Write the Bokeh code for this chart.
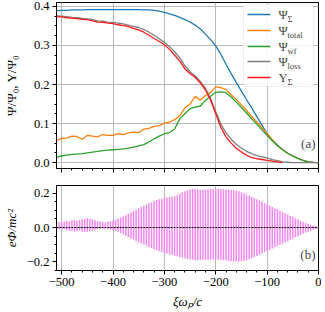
from bokeh.plotting import figure
from bokeh.layouts import gridplot
from bokeh.models import (Range1d, Span, Label, BoxAnnotation, CustomJSTickFormatter,
                          SingleIntervalTicker)
from bokeh.embed import file_html
from bokeh.resources import INLINE

# ---------------- data ----------------
xi = list(range(-510, 1, 10))          # sample positions, xi*omega_p/c

psi_sigma = [0.389, 0.390, 0.390, 0.391, 0.391, 0.391, 0.392, 0.392, 0.392, 0.392,
             0.392, 0.392, 0.392, 0.392, 0.392, 0.392, 0.392, 0.391, 0.391, 0.390,
             0.388, 0.385, 0.381, 0.377, 0.372, 0.366, 0.360, 0.352, 0.342, 0.329,
             0.315, 0.299, 0.277, 0.252, 0.228, 0.205, 0.183, 0.161, 0.140, 0.118,
             0.096, 0.074, 0.058, 0.045, 0.033, 0.024, 0.017, 0.011, 0.006, 0.002,
             0.0005, 0.0]

psi_total = [0.057, 0.062, 0.063, 0.068, 0.067, 0.060, 0.070, 0.068, 0.066, 0.072,
             0.070, 0.070, 0.074, 0.072, 0.076, 0.078, 0.077, 0.086, 0.088, 0.093,
             0.095, 0.101, 0.104, 0.110, 0.120, 0.140, 0.150, 0.170, 0.160, 0.172,
             0.180, 0.194, 0.192, 0.187, 0.174, 0.162, 0.148, 0.134, 0.118, 0.104,
             0.089, 0.074, 0.059, 0.044, 0.033, 0.024, 0.017, 0.011, 0.006, 0.002,
             0.0005, 0.0]

psi_wf = [0.014, 0.017, 0.019, 0.021, 0.022, 0.023, 0.025, 0.027, 0.029, 0.031,
          0.032, 0.033, 0.034, 0.035, 0.037, 0.040, 0.043, 0.046, 0.053, 0.061,
          0.068, 0.074, 0.077, 0.086, 0.112, 0.125, 0.138, 0.142, 0.145, 0.160,
          0.170, 0.180, 0.181, 0.179, 0.168, 0.155, 0.141, 0.127, 0.112, 0.098,
          0.084, 0.070, 0.056, 0.044, 0.033, 0.024, 0.017, 0.011, 0.006, 0.002,
          0.0005, 0.0]

psi_loss = [0.376, 0.375, 0.374, 0.372, 0.371, 0.369, 0.368, 0.366, 0.363, 0.362,
            0.360, 0.359, 0.357, 0.355, 0.352, 0.349, 0.346, 0.341, 0.334, 0.326,
            0.317, 0.308, 0.297, 0.284, 0.268, 0.248, 0.233, 0.222, 0.208, 0.190,
            0.165, 0.130, 0.098, 0.076, 0.060, 0.047, 0.037, 0.029, 0.023, 0.018,
            0.015, 0.012, 0.008, 0.005, 0.002, 0.001, 0.0, 0.0, 0.0, 0.0,
            0.0, 0.0]

ups_sigma = [0.374, 0.373, 0.371, 0.370, 0.369, 0.367, 0.366, 0.363, 0.360, 0.359,
             0.357, 0.356, 0.353, 0.351, 0.348, 0.344, 0.340, 0.334, 0.326, 0.318,
             0.310, 0.302, 0.290, 0.275, 0.260, 0.240, 0.228, 0.218, 0.204, 0.186,
             0.160, 0.125, 0.090, 0.066, 0.050, 0.037, 0.027, 0.019, 0.013, 0.010,
             0.008, 0.006, 0.004, 0.002, 0.0]
ups_xi = xi[:len(ups_sigma)]

# electrostatic potential: local maxima / minima of the oscillation
phi_xi = list(range(-510, 1, 5))
phi_top = [0.030, 0.033, 0.030, 0.035, 0.038, 0.035, 0.042, 0.046, 0.040, 0.044,
           0.048, 0.050, 0.054, 0.052, 0.048, 0.042, 0.038, 0.036, 0.034, 0.030,
           0.034, 0.038, 0.040, 0.045, 0.052, 0.058, 0.064, 0.072, 0.080, 0.088,
           0.096, 0.104, 0.112, 0.120, 0.127, 0.134, 0.141, 0.148, 0.154, 0.160,
           0.165, 0.168, 0.172, 0.175, 0.178, 0.180, 0.183, 0.188, 0.195, 0.205,
           0.212, 0.218, 0.222, 0.226, 0.224, 0.222, 0.220, 0.221, 0.222, 0.223,
           0.224, 0.225, 0.226, 0.225, 0.224, 0.223, 0.222, 0.221, 0.220, 0.218,
           0.215, 0.211, 0.206, 0.200, 0.194, 0.187, 0.180, 0.172, 0.165, 0.157,
           0.150, 0.142, 0.135, 0.128, 0.120, 0.113, 0.106, 0.098, 0.091, 0.083,
           0.076, 0.068, 0.061, 0.054, 0.047, 0.040, 0.033, 0.027, 0.021, 0.016,
           0.012, 0.008, 0.005]
phi_bot = [-0.008, -0.010, -0.012, -0.010, -0.015, -0.018, -0.020, -0.025, -0.022, -0.018,
           -0.024, -0.026, -0.025, -0.022, -0.018, -0.012, -0.010, -0.008, -0.006, -0.008,
           -0.010, -0.012, -0.014, -0.018, -0.024, -0.032, -0.040, -0.048, -0.056, -0.064,
           -0.071, -0.078, -0.085, -0.092, -0.099, -0.106, -0.113, -0.120, -0.126, -0.132,
           -0.137, -0.142, -0.147, -0.152, -0.156, -0.160, -0.164, -0.168, -0.172, -0.176,
           -0.180, -0.183, -0.186, -0.188, -0.190, -0.190, -0.189, -0.188, -0.188, -0.187,
           -0.187, -0.186, -0.186, -0.187, -0.188, -0.190, -0.192, -0.194, -0.196, -0.197,
           -0.198, -0.198, -0.196, -0.193, -0.190, -0.184, -0.178, -0.172, -0.166, -0.158,
           -0.151, -0.144, -0.137, -0.130, -0.122, -0.115, -0.108, -0.100, -0.093, -0.086,
           -0.079, -0.071, -0.064, -0.057, -0.050, -0.043, -0.036, -0.030, -0.024, -0.018,
           -0.012, -0.008, -0.005]

legend_labels = [("\u03a8", "\u03a3"), ("\u03a8", "total"), ("\u03a8", "wf"),
                 ("\u03a8", "loss"), ("\u03a5", "\u03a3")]
colors = ["#1f77b4", "#ff7f0e", "#2ca02c", "#7f7f7f", "#ff1a1a"]

# ---------------- styling helpers ----------------
FONT = "Liberation Serif"
FW, FH1, FH2 = 262, 166, 85
X0, X1 = -510, 0
Y0a, Y1a = -0.015, 0.41
Y0b, Y1b = -0.25, 0.245

xfmt = CustomJSTickFormatter(code="return tick.toFixed(0).replace('-', '\u2212');")
yfmt = CustomJSTickFormatter(code="return tick.toFixed(1).replace('-', '\u2212');")
nofmt = CustomJSTickFormatter(code="return '';")


def style(p):
    p.outline_line_color = "black"
    p.outline_line_width = 1
    p.background_fill_color = "white"
    p.border_fill_color = "white"
    for ax in p.axis:
        ax.axis_line_color = "black"
        ax.major_tick_line_color = "black"
        ax.minor_tick_line_color = "black"
        ax.major_tick_in = 0
        ax.major_tick_out = 4
        ax.minor_tick_in = 0
        ax.minor_tick_out = 2
        ax.major_label_text_font = FONT
        ax.major_label_text_font_size = "12.5px"
        ax.major_label_text_color = "black"
        ax.axis_label_text_font = FONT
        ax.axis_label_text_font_size = "13px"
        ax.axis_label_text_font_style = "normal"
        ax.axis_label_text_color = "black"
        ax.major_label_standoff = 3


# ---------------- top panel ----------------
p1 = figure(frame_width=FW, frame_height=FH1, x_range=Range1d(X0, X1),
            y_range=Range1d(Y0a, Y1a), output_backend="svg", toolbar_location=None,
            min_border_left=55, min_border_right=3, min_border_top=2, min_border_bottom=5)
style(p1)
p1.xaxis.ticker = SingleIntervalTicker(interval=100, num_minor_ticks=5)
p1.yaxis.ticker = SingleIntervalTicker(interval=0.1, num_minor_ticks=4)
p1.xaxis.formatter = nofmt
p1.xaxis.major_label_standoff = 0
p1.yaxis.formatter = yfmt
p1.yaxis.axis_label = "\u03a8/\u03a8\u2080, \u03a5/\u03a8\u2080"
p1.yaxis.axis_label_standoff = 12
p1.grid.grid_line_color = "#b8b8b8"
p1.grid.grid_line_width = 1

series = [(xi, psi_sigma), (xi, psi_total), (xi, psi_wf), (xi, psi_loss), (ups_xi, ups_sigma)]
for (xs, ys), c in zip(series, colors):
    p1.line(xs, ys, line_color=c, line_width=1.3)


def sx(px):
    return X0 + px * (X1 - X0) / FW


def sy1(py):
    return Y1a - py * (Y1a - Y0a) / FH1


def sy2(py):
    return Y1b - py * (Y1b - Y0b) / FH2


legend_box = BoxAnnotation(left=sx(FW - 75), right=sx(FW - 5), top=sy1(2), bottom=sy1(84),
                           fill_color="white", fill_alpha=0.85, line_color="#c8c8c8",
                           line_width=1, border_radius=3)
p1.add_layout(legend_box)
rows = [12, 28, 44, 59, 75]
for (main, sub), c, r in zip(legend_labels, colors, rows):
    p1.segment(x0=[sx(FW - 71)], y0=[sy1(r)], x1=[sx(FW - 48)], y1=[sy1(r)],
               line_color=c, line_width=1.5, level="overlay")
    p1.add_layout(Label(x=sx(FW - 40), y=sy1(r), text=main, text_font=FONT,
                        text_font_size="12.5px", text_baseline="middle", level="overlay"))
    p1.add_layout(Label(x=sx(FW - 31), y=sy1(r + 4), text=sub, text_font=FONT,
                        text_font_size="8.5px", text_baseline="middle", level="overlay"))

p1.add_layout(Label(x=sx(FW - 3), y=sy1(FH1 - 25), text="(a)", text_font=FONT,
                    text_font_size="13px", text_align="right", text_baseline="middle"))

# ---------------- bottom panel ----------------
p2 = figure(frame_width=FW, frame_height=FH2, x_range=Range1d(X0, X1),
            y_range=Range1d(Y0b, Y1b), output_backend="svg", toolbar_location=None,
            min_border_left=55, min_border_right=3, min_border_top=12, min_border_bottom=4)
style(p2)
p2.xaxis.ticker = SingleIntervalTicker(interval=100, num_minor_ticks=5)
p2.yaxis.ticker = SingleIntervalTicker(interval=0.2, num_minor_ticks=4)
p2.xaxis.formatter = xfmt
p2.yaxis.formatter = yfmt
p2.yaxis.axis_label = "e\u03a6/mc\u00b2"
p2.yaxis.axis_label_text_font_style = "italic"
p2.xaxis.axis_label = "\u03be\u03c9\u209a/c"
p2.xaxis.axis_label_text_font_style = "italic"
p2.xaxis.axis_label_standoff = 5
p2.ygrid.grid_line_color = None
p2.xgrid.grid_line_color = "#b8b8b8"
p2.xgrid.grid_line_width = 1

p2.segment(x0=phi_xi, y0=phi_bot, x1=phi_xi, y1=phi_top, line_color="#ee82ee",
           line_width=1.5, line_alpha=0.95)
p2.add_layout(Span(location=0, dimension="width", line_color="black", line_width=1,
                   line_dash="2 1"))
p2.add_layout(Label(x=sx(FW - 3), y=sy2(FH2 - 16), text="(b)", text_font=FONT,
                    text_font_size="13px", text_align="right", text_baseline="middle"))

grid = gridplot([[p1], [p2]], toolbar_location=None)
open("out.html", "w").write(file_html(grid, INLINE))
